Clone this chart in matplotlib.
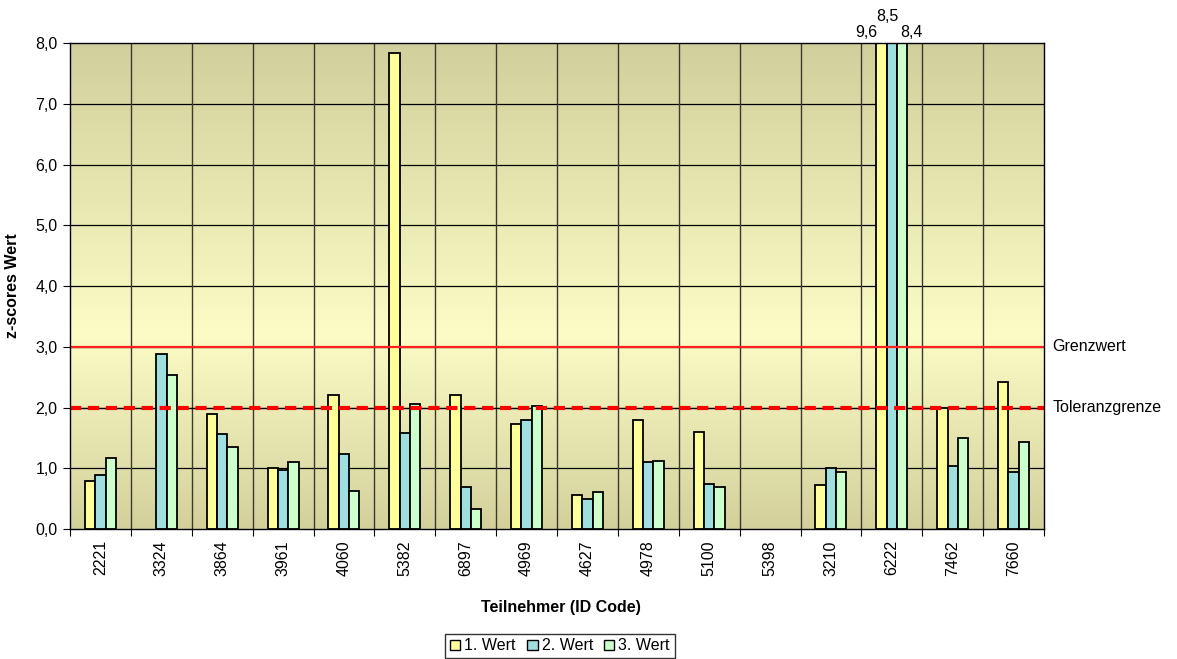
import numpy as np
import matplotlib
matplotlib.use('Agg')
import matplotlib.pyplot as plt
from matplotlib.colors import LinearSegmentedColormap
from matplotlib.patches import Patch

plt.rcParams['font.family'] = ['Liberation Sans', 'DejaVu Sans']

# Daten
teilnehmer = ['2221', '3324', '3864', '3961', '4060', '5382', '6897', '4969',
              '4627', '4978', '5100', '5398', '3210', '6222', '7462', '7660']
wert_1 = [0.80, np.nan, 1.90, 1.01, 2.20, 7.83, 2.20, 1.73,
          0.56, 1.80, 1.60, np.nan, 0.72, 9.6, 2.00, 2.43]
wert_2 = [0.89, 2.88, 1.57, 0.97, 1.23, 1.58, 0.70, 1.80,
          0.50, 1.10, 0.74, np.nan, 1.00, 8.5, 1.04, 0.94]
wert_3 = [1.17, 2.53, 1.36, 1.10, 0.63, 2.06, 0.33, 2.02,
          0.62, 1.13, 0.69, np.nan, 0.94, 8.4, 1.50, 1.44]
serien = ['1. Wert', '2. Wert', '3. Wert']
grenzwert = 3.0
toleranzgrenze = 2.0
y_max = 8.0

farben = ['#ffff99', '#a0dfe0', '#ccffcc']
FS = 11.5


def fmt(v):
    return f'{v:.1f}'.replace('.', ',')


def main():
    fig = plt.figure(figsize=(11.77, 6.59), dpi=100)
    ax = fig.add_axes([0.0595, 0.197, 0.8275, 0.7377])

    n = len(teilnehmer)
    x = np.arange(n)

    # Hintergrund: Verlauf dunkel - hell - dunkel
    cmap = LinearSegmentedColormap.from_list(
        'bg', [(0.0, '#d3d09c'), (0.40, '#fcfcc6'), (1.0, '#d1cf9b')])
    grad = np.linspace(0, 1, 256).reshape(-1, 1)
    ax.imshow(grad, cmap=cmap, aspect='auto', origin='lower',
              extent=[-0.5, n - 0.5, 0, y_max], zorder=0)

    # Gitter
    for yv in range(1, int(y_max)):
        ax.axhline(yv, color='black', lw=0.9, zorder=1)
    for xb in np.arange(0.5, n - 0.5, 1):
        ax.axvline(xb, color='#3a3a2e', lw=1.0, zorder=1)

    w = 0.17
    offs = [-w, 0, w]
    for vals, off, col, lab in zip([wert_1, wert_2, wert_3], offs, farben, serien):
        ax.bar(x + off, vals, width=w, color=col, edgecolor='black',
               linewidth=1.3, zorder=2, label=lab)

    # Grenzlinien
    ax.axhline(grenzwert, color='#ff2020', lw=1.6, zorder=3)
    ax.axhline(toleranzgrenze, color='black', lw=0.9, zorder=1)
    ax.axhline(toleranzgrenze, color='#ff0000', lw=3.0, dashes=(2.7, 1.6), zorder=3)
    ax.annotate('Grenzwert', xy=(1, grenzwert), xycoords=('axes fraction', 'data'),
                xytext=(6, 0), textcoords='offset points', va='center', fontsize=FS)
    ax.annotate('Toleranzgrenze', xy=(1, toleranzgrenze), xycoords=('axes fraction', 'data'),
                xytext=(6, 0), textcoords='offset points', va='center', fontsize=FS)

    # Werte der abgeschnittenen Balken
    shifts = [(-11, 4.3), (-3, 15.8), (7, 4.3)]
    for vals, off, (dx, dy) in zip([wert_1, wert_2, wert_3], offs, shifts):
        for i, v in enumerate(vals):
            if not np.isnan(v) and v > y_max:
                ax.annotate(fmt(v), xy=(i + off, y_max), xytext=(dx, dy),
                            textcoords='offset points', ha='center', va='baseline',
                            fontsize=FS, annotation_clip=False)

    ax.set_xlim(-0.5, n - 0.5)
    ax.set_ylim(0, y_max)
    ax.set_yticks(np.arange(0, y_max + 0.1, 1))
    ax.set_yticklabels([fmt(v) for v in np.arange(0, y_max + 0.1, 1)], fontsize=FS)
    ax.set_xticks(x)
    ax.set_xticklabels(teilnehmer, rotation=90, fontsize=FS)
    ax.tick_params(axis='x', length=0, pad=8)
    ax.set_xticks(np.arange(-0.5, n, 1), minor=True)
    ax.tick_params(axis='x', which='minor', length=5, width=0.8)
    ax.tick_params(axis='y', length=5, width=0.8, direction='out', pad=4)
    for s in ax.spines.values():
        s.set_color('black')
        s.set_linewidth(1.0)
        s.set_zorder(4)

    ax.set_ylabel('z-scores Wert', fontsize=FS, fontweight='bold')
    ax.yaxis.set_label_coords(-0.0513, 0.5)
    ax.set_xlabel('Teilnehmer (ID Code)', fontsize=FS, fontweight='bold')
    ax.xaxis.set_label_coords(0.504, -0.146)

    handles = [Patch(facecolor=c, edgecolor='black', lw=1.0) for c in farben]
    fig.legend(handles, serien, loc='center', bbox_to_anchor=(560 / 1177, 1 - 646 / 659),
               ncol=3, fontsize=FS, frameon=True, fancybox=False, edgecolor='black',
               handlelength=0.65, handleheight=0.65, handletextpad=0.25,
               columnspacing=0.7, borderpad=0.3, borderaxespad=0)

    plt.savefig('out.png', dpi=100)


if __name__ == '__main__':
    main()
